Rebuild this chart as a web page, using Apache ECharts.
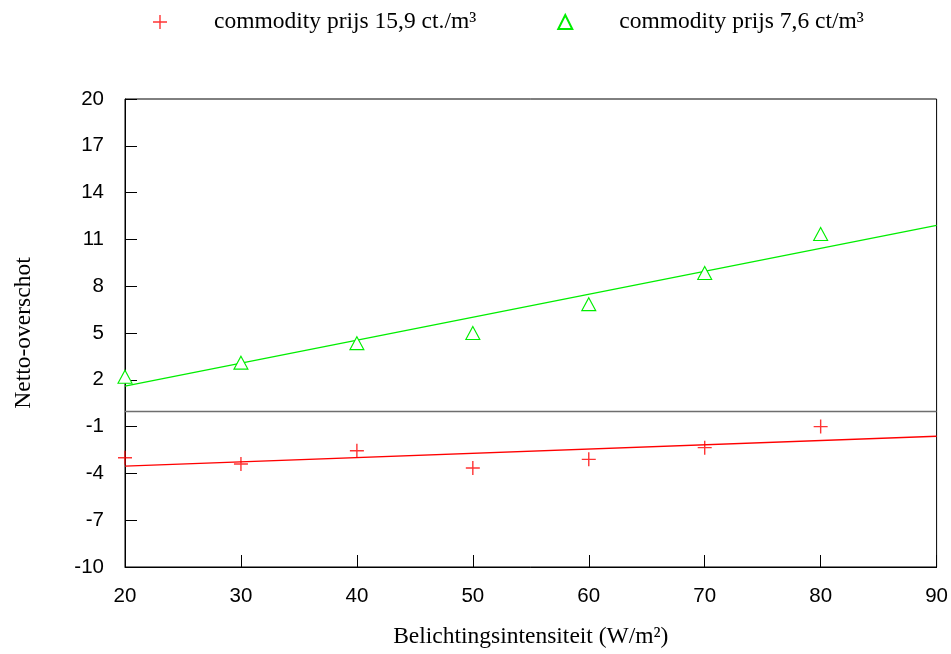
<!DOCTYPE html>
<html>
<head>
<meta charset="utf-8">
<script src="https://cdn.jsdelivr.net/npm/echarts@6/dist/echarts.min.js"></script>
<style>html,body{margin:0;padding:0;background:#fff;}#chart{width:951px;height:654px;}</style>
</head>
<body>
<div id="chart"></div>
<script>
// Data
var xValues = [20, 30, 40, 50, 60, 70, 80];
var redValues = [-3.0, -3.4, -2.55, -3.65, -3.1, -2.35, -1.0];
var greenValues = [2.2, 3.1, 4.35, 5.0, 6.85, 8.85, 11.35];
var fitX = [20, 90];
var redFitY = [-3.53, -1.62];
var greenFitY = [1.6, 11.9];
var yTicks = [-10, -7, -4, -1, 2, 5, 8, 11, 14, 17, 20];
var redName = 'commodity prijs 15,9 ct./m³';
var greenName = 'commodity prijs 7,6 ct/m³';

function pairs(xs, ys) { return xs.map(function (x, i) { return [x, ys[i]]; }); }

var serif = 'Liberation Serif';
var sans = 'Liberation Sans';
var crossPath = 'path://M0,6.3H14V7.7H0Z M6.3,0H7.7V14H6.3Z';

var chart = echarts.init(document.getElementById('chart'), null, {renderer: 'canvas'});
chart.setOption({
  animation: false,
  backgroundColor: '#fff',
  legend: {
    left: 148, top: 5,
    itemWidth: 14, itemHeight: 14, itemGap: 81,
    data: [redName, greenName],
    textStyle: {fontFamily: serif, fontSize: 23.5, color: '#000', padding: [0, 0, 0, 42]}
  },
  grid: {left: 125, right: 14, top: 99, bottom: 87, show: true, borderColor: '#000', borderWidth: 1, backgroundColor: 'transparent'},
  xAxis: {
    type: 'value', min: 20, max: 90, interval: 10,
    name: 'Belichtingsintensiteit (W/m²)', nameLocation: 'middle', nameGap: 58,
    nameTextStyle: {fontFamily: serif, fontSize: 23.5, color: '#000'},
    axisLine: {show: true, onZero: false, lineStyle: {color: '#000', width: 1}},
    axisTick: {show: true, inside: true, length: 12, lineStyle: {color: '#000'}},
    axisLabel: {fontFamily: sans, fontSize: 20.5, color: '#000', margin: 19},
    splitLine: {show: false}
  },
  yAxis: {
    type: 'value', min: -10, max: 20,
    name: 'Netto-overschot', nameLocation: 'middle', nameGap: 89, nameRotate: 90,
    nameTextStyle: {fontFamily: serif, fontSize: 23.5, color: '#000'},
    axisLine: {show: true, onZero: false, lineStyle: {color: '#000', width: 1}},
    axisTick: {show: true, inside: true, length: 12, customValues: yTicks, lineStyle: {color: '#000'}},
    axisLabel: {fontFamily: sans, fontSize: 20.5, color: '#000', margin: 21, customValues: yTicks},
    splitLine: {show: false}
  },
  series: [
    {
      name: redName, type: 'scatter', data: pairs(xValues, redValues),
      symbol: crossPath, symbolSize: 14,
      itemStyle: {color: '#ff0000'}, z: 5
    },
    {
      name: greenName, type: 'scatter', data: pairs(xValues, greenValues),
      symbol: 'triangle', symbolSize: [14, 13],
      itemStyle: {color: '#ffffff', borderColor: '#00ee00', borderWidth: 1.1, opacity: 1}, z: 5
    },
    {
      name: 'redFit', type: 'line', data: pairs(fitX, redFitY),
      symbol: 'none', lineStyle: {color: '#ff0000', width: 1.3}, z: 4,
      markLine: {
        silent: true, symbol: ['none', 'none'], label: {show: false},
        lineStyle: {color: '#6e6e6e', width: 1.3, type: 'solid'},
        data: [{yAxis: 0}]
      }
    },
    {
      name: 'greenFit', type: 'line', data: pairs(fitX, greenFitY),
      symbol: 'none', lineStyle: {color: '#00ee00', width: 1.3}, z: 4
    }
  ]
});
</script>
</body>
</html>
